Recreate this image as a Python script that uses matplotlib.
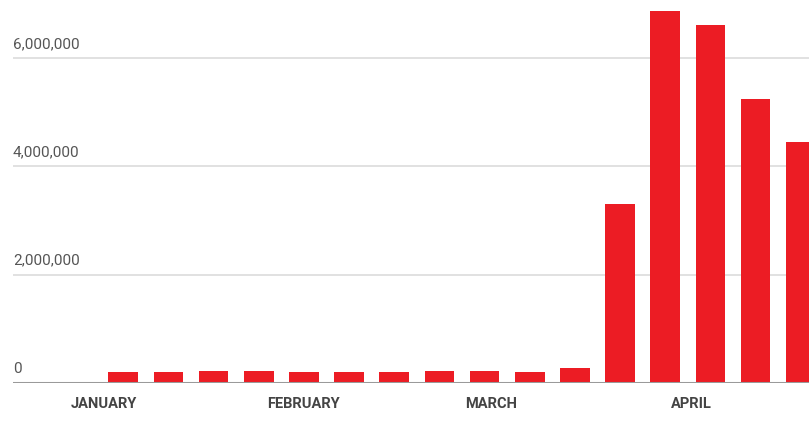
import datetime as dt
import matplotlib
matplotlib.use("Agg")
import matplotlib.pyplot as plt
import matplotlib.dates as mdates

# weekly claims, week ending dates (2020)
week_ending = ["2020-01-04", "2020-01-11", "2020-01-18", "2020-01-25",
               "2020-02-01", "2020-02-08", "2020-02-15", "2020-02-22",
               "2020-02-29", "2020-03-07", "2020-03-14", "2020-03-21",
               "2020-03-28", "2020-04-04", "2020-04-11", "2020-04-18"]
claims = [212000, 210000, 222000, 214000, 202000, 204000, 212000, 219000,
          216000, 211000, 282000, 3307000, 6867000, 6615000, 5237000, 4442000]

month_labels = ["JANUARY", "FEBRUARY", "MARCH", "APRIL"]
month_starts = ["2020-01-01", "2020-02-01", "2020-03-01", "2020-04-01"]
y_ticks = [0, 2000000, 4000000, 6000000]

dates = [dt.datetime.strptime(d, "%Y-%m-%d") for d in week_ending]
months = [dt.datetime.strptime(d, "%Y-%m-%d") for d in month_starts]

plt.rcParams["font.family"] = ["Roboto", "DejaVu Sans"]

fig = plt.figure(figsize=(8.09, 4.34), dpi=100)
ax = fig.add_axes([13 / 809, 51 / 434, 796 / 809, 383 / 434])

ax.bar(dates, claims, width=4.6, color="#ec1c24", zorder=3)

ax.set_xlim(dt.datetime(2019, 12, 17, 22), dt.datetime(2020, 4, 19, 7))
ax.set_ylim(0, 7.07e6)

# gridlines
for v in y_ticks[1:]:
    ax.axhline(v, color="#dcdcdc", lw=1.2, zorder=1)
ax.axhline(0, color="#9a9a9a", lw=2.2, zorder=4)

# y labels sitting on top of the gridlines
for v in y_ticks:
    ax.annotate(f"{v:,}", xy=(0, v), xycoords=("axes fraction", "data"),
                xytext=(0, 5), textcoords="offset points",
                ha="left", va="bottom", fontsize=11, color="#555555")

# month labels
for m, lab in zip(months, month_labels):
    ax.annotate(lab, xy=(mdates.date2num(m), 0), xycoords=("data", "axes fraction"),
                xytext=(0, -10), textcoords="offset points",
                ha="center", va="top", fontsize=10.5, fontweight="bold", color="#444444")

ax.set_xticks([])
ax.set_yticks([])
for s in ax.spines.values():
    s.set_visible(False)

fig.savefig("out.png", dpi=100)
